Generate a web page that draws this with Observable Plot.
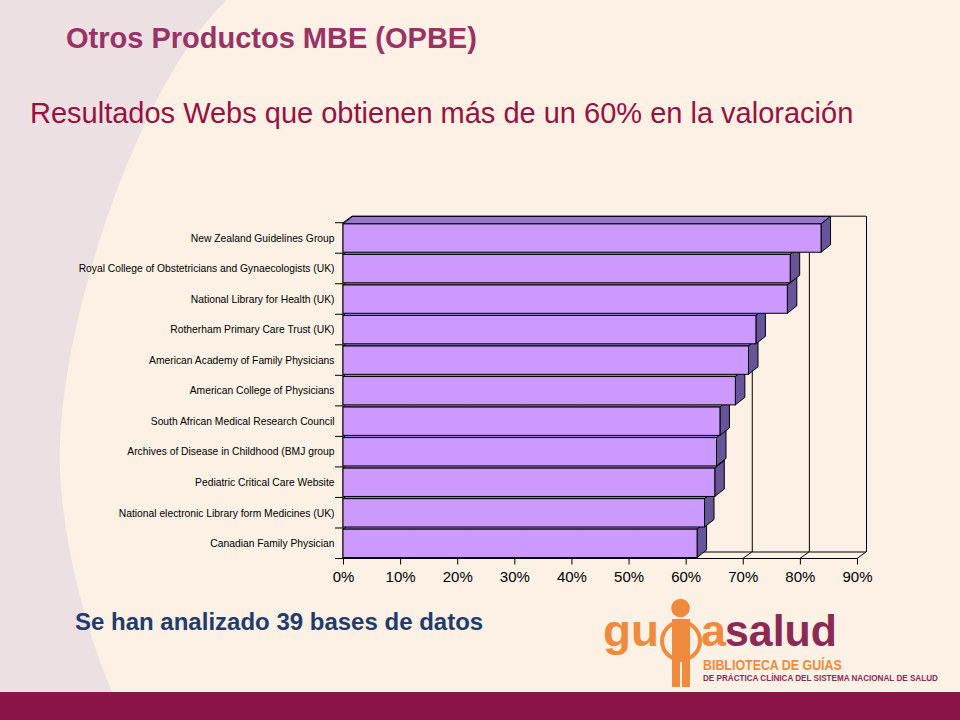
<!DOCTYPE html>
<html>
<head>
<meta charset="utf-8">
<script src="https://cdn.jsdelivr.net/npm/d3@7"></script>
<script src="https://cdn.jsdelivr.net/npm/@observablehq/plot@0.6"></script>
<style>
  body { margin: 0; }
  #page { position: relative; width: 960px; height: 720px; background: #FDF0E5; overflow: hidden;
          font-family: Arial, "Liberation Sans", sans-serif; }
  #bg, #logo { position: absolute; left: 0; top: 0; }
  #chart { position: absolute; left: 0; top: 190px; }
  .txt { position: absolute; white-space: nowrap; line-height: 1; }
</style>
</head>
<body>
<div id="page">
  <svg id="bg" width="960" height="720">
    <path d="M0,0 L227,0 C140,80 55,330 60,470 C63,550 90,640 112,692 L0,692 Z" fill="#EDE0E3"/>
    <rect x="0" y="692" width="960" height="28" fill="#8B1446"/>
  </svg>
  <div class="txt" style="left:66px;top:24px;font-weight:bold;font-size:29px;color:#993366;">Otros Productos MBE (OPBE)</div>
  <div class="txt" style="left:30px;top:98.5px;font-size:29px;color:#99103F;">Resultados Webs que obtienen más de un 60% en la valoración</div>
  <div id="chart"></div>
  <div class="txt" style="left:75px;top:610px;font-weight:bold;font-size:24px;color:#1F3C6E;">Se han analizado 39 bases de datos</div>
  <svg id="logo" width="960" height="720">
    <circle cx="681" cy="641" r="19" fill="none" stroke="#F08A3C" stroke-width="4"/>
    <circle cx="680.5" cy="608" r="9.3" fill="#F08A3C"/>
    <path d="M672,619 H690 V687 H682 V660 H680 V687 H672 Z" fill="#F08A3C"/>
    <text class="fit" data-x="603" data-y="646" data-w="56" font-family="Arial, 'Liberation Sans', sans-serif" font-weight="bold" font-size="44" fill="#F08A3C">gu</text>
    <text class="fit" data-x="701" data-y="646" data-w="25" font-family="Arial, 'Liberation Sans', sans-serif" font-weight="bold" font-size="44" fill="#F08A3C">a</text>
    <text class="fit" data-x="725" data-y="646" data-w="112" font-family="Arial, 'Liberation Sans', sans-serif" font-weight="bold" font-size="44" fill="#8C2A55">salud</text>
    <text class="fit" data-x="703" data-y="670" data-w="139" font-family="Arial, 'Liberation Sans', sans-serif" font-weight="bold" font-size="14" fill="#F08A3C">BIBLIOTECA DE GUÍAS</text>
    <text class="fit" data-x="703" data-y="680.5" data-w="235" font-family="Arial, 'Liberation Sans', sans-serif" font-weight="bold" font-size="9.5" fill="#8C2A55">DE PRÁCTICA CLÍNICA DEL SISTEMA NACIONAL DE SALUD</text>
  </svg>
</div>
<script>
// ---- data ----
const names = [
  "New Zealand Guidelines Group",
  "Royal College of Obstetricians and Gynaecologists (UK)",
  "National Library for Health (UK)",
  "Rotherham Primary Care Trust (UK)",
  "American Academy of Family Physicians",
  "American College of Physicians",
  "South African Medical Research Council",
  "Archives of Disease in Childhood (BMJ group",
  "Pediatric Critical Care Website",
  "National electronic Library form Medicines (UK)",
  "Canadian Family Physician"
];
const values = [0.837, 0.783, 0.778, 0.723, 0.710, 0.687, 0.660, 0.654, 0.651, 0.633, 0.620];
const xTicks = [0, 0.1, 0.2, 0.3, 0.4, 0.5, 0.6, 0.7, 0.8, 0.9];

const data = names.map((name, i) => ({name, value: values[i]}));

// ---- styling constants ----
const wallDX = 9, wallDY = -6.5;
const barDX = 9.5, barDY = -7.5;
const inTop = 1.2, inBot = 1;
const frontColor = "#CC99FF", topColor = "#9977CC", sideColor = "#665599";

function poly(g, pts, fill) {
  g.append("path")
    .attr("d", "M" + pts.map(p => p.join(",")).join("L") + "Z")
    .attr("fill", fill).attr("stroke", "#000").attr("stroke-width", 1)
    .attr("stroke-linejoin", "round");
}
function line(g, x1, y1, x2, y2) {
  g.append("line").attr("x1", x1).attr("y1", y1).attr("x2", x2).attr("y2", y2)
    .attr("stroke", "#000").attr("stroke-width", 1);
}

// walls, floor and category ticks, positioned from the scales
function renderWalls(index, scales, values, dim) {
  const g = d3.create("svg:g");
  const top = dim.marginTop, bottom = dim.height - dim.marginBottom;
  const x0 = scales.x(xTicks[0]), x1 = scales.x(xTicks[xTicks.length - 1]);
  line(g, x0 + wallDX, top + wallDY, x1 + wallDX, top + wallDY);
  line(g, x0, top, x0 + wallDX, top + wallDY);
  line(g, x0, top, x0, bottom);
  line(g, x0, bottom, x1, bottom);
  line(g, x0 + wallDX, bottom + wallDY, x1 + wallDX, bottom + wallDY);
  for (const i of index) {
    const x = values.x[i];
    line(g, x, bottom, x + wallDX, bottom + wallDY);
  }
  const bw = scales.y.bandwidth ? scales.y.bandwidth() : (bottom - top) / names.length;
  const bounds = names.map(n => scales.y(n)).concat([scales.y(names[names.length - 1]) + bw]);
  for (const yb of bounds) line(g, x0 - 8, yb, x0, yb);
  return g.node();
}

// top and right faces of the 3D bars, drawn bottom bar first
function renderFaces(index, scales, values, dim) {
  const g = d3.create("svg:g");
  const top = dim.marginTop, bottom = dim.height - dim.marginBottom;
  const bw = scales.y.bandwidth ? scales.y.bandwidth() : (bottom - top) / names.length;
  const order = Array.from(index).sort((a, b) => names.indexOf(data[b].name) - names.indexOf(data[a].name));
  for (const i of order) {
    const d = data[i];
    const x0 = scales.x(0), xe = scales.x(d.value);
    const yt = scales.y(d.name) + inTop, yb = scales.y(d.name) + bw - inBot;
    poly(g, [[x0, yt], [xe, yt], [xe + barDX, yt + barDY], [x0 + barDX, yt + barDY]], topColor);
    poly(g, [[xe, yt], [xe + barDX, yt + barDY], [xe + barDX, yb + barDY], [xe, yb]], sideColor);
  }
  return g.node();
}

const chart = Plot.plot({
  width: 960,
  height: 410,
  marginLeft: 343,
  marginRight: 103,
  marginTop: 32.7,
  marginBottom: 41.5,
  style: {background: "transparent", fontFamily: "Arial, 'Liberation Sans', sans-serif", color: "#000"},
  x: {domain: [0, 0.9], label: null, round: false},
  y: {domain: names, padding: 0, round: false, label: null},
  marks: [
    Plot.ruleX(xTicks, {x: d => d, dx: wallDX, dy: wallDY, stroke: "#000", strokeWidth: 1}),
    Plot.ruleX(xTicks, {x: d => d, render: renderWalls}),
    Plot.barX(data, {x: "value", y: "name", render: renderFaces}),
    Plot.barX(data, {x: "value", y: "name", fill: frontColor, stroke: "#000", strokeWidth: 1,
                     insetTop: inTop, insetBottom: inBot}),
    Plot.axisX({ticks: xTicks, tickFormat: d3.format(".0%"), tickSize: 6, tickPadding: 6.5,
                fontSize: 15, label: null, stroke: "#000"}),
    Plot.axisY({tickSize: 0, tickPadding: 9, fontSize: 10.3, label: null})
  ]
});
document.getElementById("chart").appendChild(chart);

// fit logo texts to their widths by horizontal scaling
document.querySelectorAll("#logo text.fit").forEach(t => {
  const w = t.getComputedTextLength();
  const sx = (+t.dataset.w) / w;
  t.setAttribute("transform", `translate(${t.dataset.x},${t.dataset.y}) scale(${sx},1)`);
});
</script>
</body>
</html>
